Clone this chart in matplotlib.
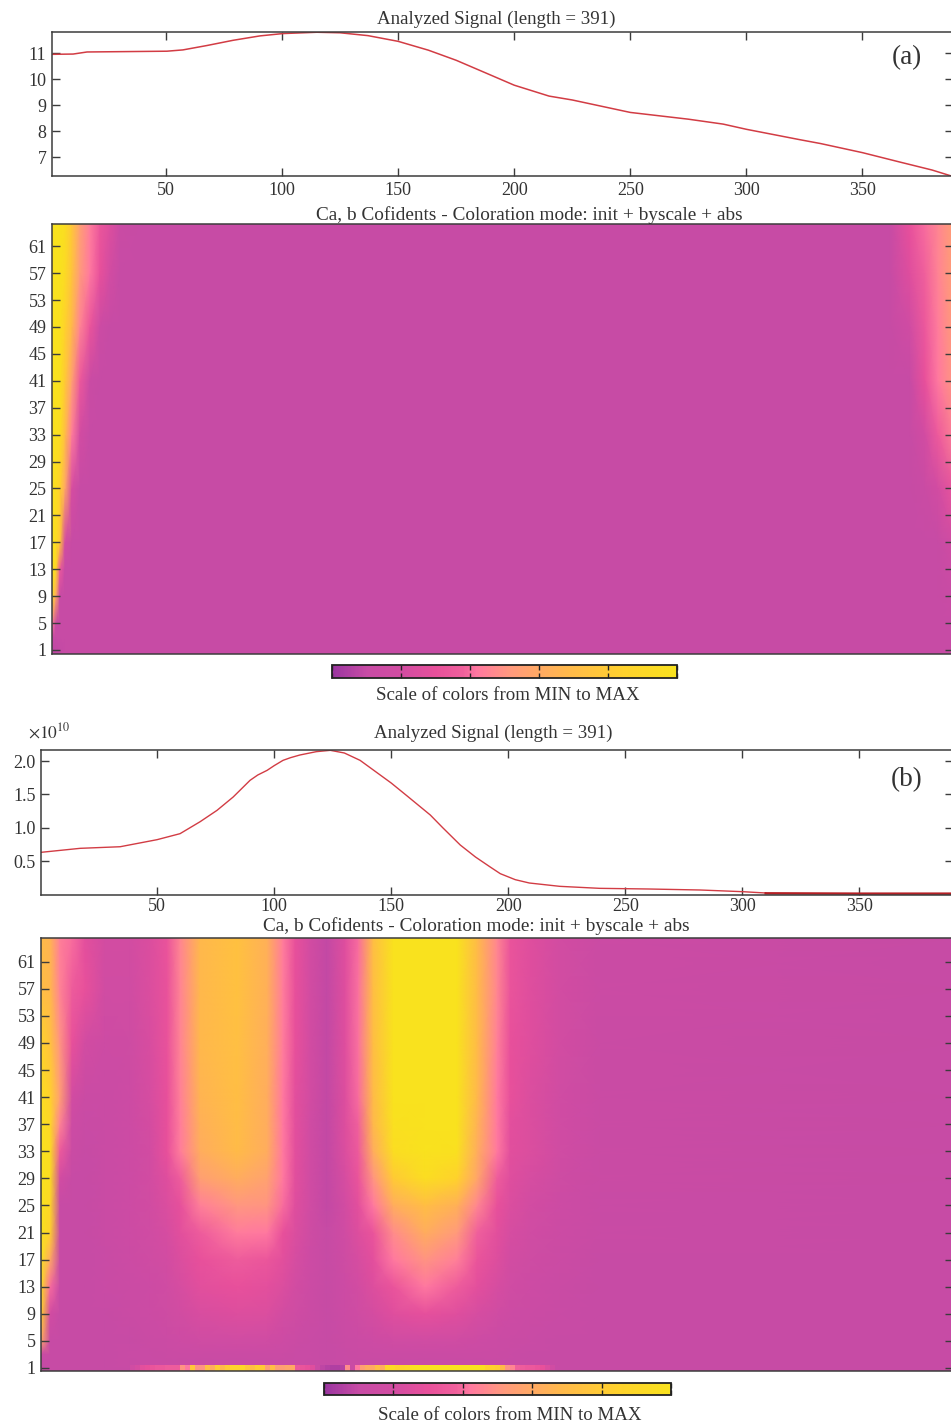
import numpy as np
import matplotlib
matplotlib.use("Agg")
import matplotlib.pyplot as plt
from matplotlib.colors import LinearSegmentedColormap, Normalize
from matplotlib.cm import ScalarMappable

plt.rcParams['font.family'] = ['Liberation Serif', 'DejaVu Serif']
plt.rcParams['mathtext.fontset'] = 'stix'

W, H = 951, 1425
TEXT = '#333333'
EDGE = '#3c3c3c'
LINE = '#d23c44'

# --- signals
sig_a_x = [1, 10, 16, 50.4, 57.3, 67.7, 78.9, 90.5, 100.4, 115, 125, 137, 150, 163, 175, 187, 200, 215, 225,
           250, 275, 290, 300, 323, 332, 350, 366, 380, 389]
sig_a_y = [10.96, 10.97, 11.05, 11.08, 11.13, 11.3, 11.5, 11.67, 11.76, 11.81, 11.79, 11.68, 11.46, 11.12, 10.73,
           10.27, 9.77, 9.35, 9.2, 8.72, 8.46, 8.27, 8.07, 7.67, 7.52, 7.17, 6.81, 6.5, 6.25]
sig_b_x = [0.4, 17.1, 34.2, 50, 59.8, 68.4, 75.6, 82.5, 89.7, 93, 97, 100, 103.8, 107, 111, 118, 124, 130, 136.7,
           150, 157, 166.7, 172, 179.5, 186, 192.3, 196.6, 203, 209, 222, 239, 260, 282, 300, 310]
sig_b_y = [0.63, 0.69, 0.714, 0.82, 0.91, 1.09, 1.26, 1.46, 1.71, 1.79, 1.86, 1.93, 2.01, 2.05, 2.09, 2.14, 2.16,
           2.12, 2.01, 1.67, 1.47, 1.19, 1.0, 0.74, 0.56, 0.41, 0.31, 0.22, 0.17, 0.12, 0.09, 0.08, 0.065, 0.04, 0.02]
sig_b_tail_x = [310, 350, 391]
sig_b_tail_y = [0.015, 0.01, 0.01]

x_ticks = [50, 100, 150, 200, 250, 300, 350]
scale_ticks = list(range(1, 62, 4))
a_sig_ticks = [7, 8, 9, 10, 11]
b_sig_ticks = [0.5, 1.0, 1.5, 2.0]
b_sig_labels = ['0.5', '1.0', '1.5', '2.0']

# --- coefficient tables (0 = MIN, 1 = MAX)
a_cols = [0.9, 2.6, 4.3, 6.5, 9.5, 13, 17.3, 21.6, 25.9, 30.2, 38.8, 361.8, 370.4, 376.9, 382.5, 390]
a_rows = [0.4, 3, 5, 9, 13, 17, 25, 33, 41, 49, 57, 64.4]
a_vals = [
    [.08, .08, .09, .1, .1, .1, .1, .1, .1, .1, .1, .1, .1, .1, .1, .1],
    [.12, .1, .1, .1, .1, .1, .1, .1, .1, .1, .1, .1, .1, .1, .1, .1],
    [.45, .1, .1, .1, .1, .1, .1, .1, .1, .1, .1, .1, .1, .1, .1, .1],
    [.95, .6, .1, .1, .1, .1, .1, .1, .1, .1, .1, .1, .1, .1, .1, .12],
    [1, .9, .35, .1, .1, .1, .1, .1, .1, .1, .1, .1, .1, .1, .1, .15],
    [1, .95, .8, .2, .1, .1, .1, .1, .1, .1, .1, .1, .1, .1, .1, .2],
    [1, .95, .85, .6, .22, .1, .1, .1, .1, .1, .1, .1, .1, .12, .2, .33],
    [1, .98, .95, .72, .43, .2, .1, .1, .1, .1, .1, .1, .1, .2, .35, .45],
    [1, 1, .98, .8, .55, .34, .12, .1, .1, .1, .1, .1, .1, .3, .42, .52],
    [1, 1, .98, .85, .68, .45, .32, .14, .1, .1, .1, .1, .18, .34, .43, .55],
    [1, 1, 1, .93, .75, .52, .42, .3, .2, .1, .1, .1, .26, .38, .45, .56],
    [1, 1, 1, .95, .78, .55, .43, .33, .25, .12, .1, .1, .3, .4, .46, .56],
]

b_cols = [0.4, 4.3, 8.5, 13.7, 19.2, 27.8, 38.5, 47, 54.3, 59.8, 68.4, 84.2, 97, 103.8, 109, 115.4, 122.6, 130.3,
          135.9, 142.3, 150.9, 164.5, 178.2, 186.8, 195.3, 200.9, 209.4, 222.2, 239.3, 390]
b_rows = [0.5, 3, 5, 9, 13, 17, 21, 25, 29, 33, 37, 41, 49, 57, 64.5]
b_vals = [
    [.09, .1, .1, .1, .1, .1, .1, .11, .11, .11, .11, .11, .11, .11, .11, .1, .1, .11, .11, .11, .11, .11, .11, .11, .11, .1, .1, .1, .1, .1],
    [.12, .1, .1, .1, .1, .1, .11, .11, .12, .12, .12, .12, .12, .12, .11, .11, .1, .11, .12, .12, .12, .12, .12, .12, .12, .11, .1, .1, .1, .1],
    [.6, .1, .1, .1, .1, .1, .1, .12, .13, .15, .17, .18, .17, .15, .13, .11, .1, .12, .13, .15, .17, .18, .17, .15, .13, .12, .11, .1, .1, .1],
    [.85, .2, .1, .1, .1, .1, .12, .14, .16, .19, .23, .25, .24, .2, .17, .13, .1, .14, .17, .21, .26, .29, .26, .22, .18, .15, .13, .11, .1, .1],
    [.95, .4, .1, .1, .1, .11, .13, .15, .18, .22, .27, .3, .28, .24, .2, .14, .1, .15, .2, .25, .32, .42, .36, .28, .22, .18, .15, .12, .1, .1],
    [1, .6, .1, .1, .1, .11, .14, .17, .2, .24, .3, .36, .33, .27, .22, .15, .1, .16, .22, .28, .42, .5, .44, .32, .25, .2, .16, .13, .1, .1],
    [1, .85, .1, .1, .1, .12, .15, .18, .22, .27, .36, .43, .42, .3, .24, .16, .1, .18, .25, .32, .48, .62, .52, .38, .27, .22, .18, .14, .11, .1],
    [1, .9, .1, .1, .1, .12, .15, .19, .24, .29, .44, .51, .5, .4, .26, .18, .09, .2, .28, .42, .62, .72, .64, .46, .3, .24, .2, .15, .11, .1],
    [1, .95, .2, .1, .1, .12, .15, .2, .26, .36, .55, .62, .56, .42, .27, .18, .09, .22, .32, .5, .8, .95, .85, .58, .36, .26, .22, .16, .12, .1],
    [1, .95, .35, .12, .1, .12, .15, .2, .3, .43, .62, .7, .62, .42, .28, .18, .09, .24, .35, .62, .95, 1, .98, .62, .42, .27, .24, .18, .12, .1],
    [.98, .9, .45, .15, .11, .12, .15, .21, .3, .43, .64, .71, .62, .42, .28, .18, .09, .25, .38, .68, .98, 1, 1, .65, .42, .28, .24, .18, .12, .1],
    [.95, .85, .55, .2, .12, .12, .15, .22, .3, .44, .66, .72, .62, .42, .28, .2, .09, .25, .4, .7, 1, 1, 1, .68, .42, .3, .24, .18, .12, .1],
    [.85, .75, .5, .3, .2, .15, .16, .23, .31, .45, .68, .73, .63, .43, .3, .2, .09, .26, .41, .72, 1, 1, 1, .7, .44, .3, .26, .2, .12, .1],
    [.72, .68, .45, .36, .3, .18, .18, .24, .31, .45, .68, .74, .64, .43, .3, .2, .09, .26, .41, .72, 1, 1, 1, .7, .46, .32, .26, .2, .13, .1],
    [.7, .66, .44, .4, .28, .2, .2, .24, .32, .46, .68, .74, .64, .43, .3, .2, .09, .26, .4, .72, 1, 1, 1, .7, .46, .32, .26, .2, .13, .1],
]

# first scale of panel (b) is noisy, one value per small x bin
row1_x0 = 38.5
row1_step = 2.137
row1_vals = [.18, .22, .28, .3, .32, .34, .34, .36, .36, .36,
             .5, .42, .78, .5, .5, .72, .62, .82, .68, .8,
             .85, .85, .9, .78, .72, .82, .8, .55, .72, .55,
             .55, .58, .6, .34, .32, .3, .26, .12, .08, .06,
             .05, .05, .06, .48, .12, .42, .55, .62, .6, .72,
             .62, .88, .92, .85, .88, .9, .98, 1, 1, 1,
             1, 1, 1, 1, 1, 1, 1, 1, 1, 1,
             .98, .85, .85, .82, .7, .5, .46, .38, .36, .34,
             .34, .32, .3, .24, .18]

cmap_pos = [0, .1, .2, .3, .38, .42, .52, .68, .85, 1]
cmap_col = ['#9a35a0', '#c84ba5', '#d24ca2', '#e8509b', '#f0609c', '#ff78a0', '#ff9a7c', '#ffb84c', '#ffd22c', '#f9e21e']
cmap = LinearSegmentedColormap.from_list('scale', list(zip(cmap_pos, cmap_col)))
norm = Normalize(0, 1)


def px_axes(fig, left, top, right, bottom):
    return fig.add_axes([left / W, 1 - bottom / H, (right - left) / W, (bottom - top) / H])


def px_text(fig, x, y, s, size=13.6, **kw):
    fig.text(x / W, 1 - y / H, s, fontsize=size, color=TEXT, ha='center', va='center', **kw)


def style(ax, top=True, bottom=True, pad=4):
    for s in ax.spines.values():
        s.set_color(EDGE)
        s.set_linewidth(1.1)
    ax.tick_params(direction='in', length=6, width=1.0, color=EDGE, labelcolor=TEXT, labelsize=13,
                   left=True, right=True, top=top, bottom=bottom)
    ax.tick_params(axis='y', pad=4)
    ax.tick_params(axis='x', pad=pad)


def signal_panel(fig, box, xlim, ylim, yticks, ylabels=None, pad=4):
    ax = px_axes(fig, *box)
    ax.set_xlim(*xlim)
    ax.set_ylim(*ylim)
    ax.set_xticks(x_ticks)
    ax.set_yticks(yticks)
    if ylabels:
        ax.set_yticklabels(ylabels)
    style(ax, pad=pad)
    return ax


def heat_panel(fig, box, xlim, ylim, cols, rows, vals):
    ax = px_axes(fig, *box)
    ax.pcolormesh(cols, rows, np.array(vals), cmap=cmap, norm=norm, shading='gouraud')
    ax.set_xlim(*xlim)
    ax.set_ylim(*ylim)
    ax.set_xticks([])
    ax.set_yticks(scale_ticks)
    style(ax, top=False, bottom=False)
    return ax


def scale_bar(fig, box):
    cax = px_axes(fig, *box)
    cb = fig.colorbar(ScalarMappable(norm=norm, cmap=cmap), cax=cax, orientation='horizontal')
    cb.set_ticks([0, .2, .4, .6, .8, 1])
    cb.ax.tick_params(direction='in', length=3.5, width=1.0, color='#222222', top=True, bottom=True,
                      labelbottom=False, labeltop=False)
    cb.outline.set_edgecolor('#222222')
    cb.outline.set_linewidth(1.3)


fig = plt.figure(figsize=(W / 100, H / 100), dpi=100)

# panel (a)
ax = signal_panel(fig, (52, 32, 953, 176), (0.9, 389), (6.27, 11.82), a_sig_ticks)
ax.plot(sig_a_x, sig_a_y, color=LINE, lw=1.1)
heat_panel(fig, (52, 224, 953, 654), (0.9, 389), (0.4, 64.3), a_cols, a_rows, a_vals)
scale_bar(fig, (332, 665, 677, 678))

# panel (b)
ax = signal_panel(fig, (41, 750, 953, 895), (0.4, 390), (-0.01, 2.165), b_sig_ticks, b_sig_labels, pad=2.5)
ax.plot(sig_b_x, sig_b_y, color=LINE, lw=1.0)
ax.plot(sig_b_tail_x, sig_b_tail_y, color='#b52025', lw=1.8)
ax = heat_panel(fig, (41, 938, 953, 1371), (0.4, 390), (0.55, 64.5), b_cols, b_rows, b_vals)
row1_edges = row1_x0 + row1_step * np.arange(len(row1_vals) + 1)
ax.pcolormesh(row1_edges, [0.55, 1.45], np.array([row1_vals]), cmap=cmap, norm=norm, shading='flat')
scale_bar(fig, (324, 1383, 671, 1395))

# titles and labels
px_text(fig, 496, 19, 'Analyzed Signal (length = 391)')
px_text(fig, 529, 215, 'Ca, b Cofidents - Coloration mode: init + byscale + abs', size=13.9)
px_text(fig, 508, 696, 'Scale of colors from MIN to MAX')
px_text(fig, 493, 733, 'Analyzed Signal (length = 391)')
px_text(fig, 476, 926, 'Ca, b Cofidents - Coloration mode: init + byscale + abs', size=13.9)
px_text(fig, 510, 1415, 'Scale of colors from MIN to MAX')
px_text(fig, 907, 58, '(a)', size=19.5)
px_text(fig, 907, 780, '(b)', size=19.5)
px_text(fig, 49, 732, r'$\times 10^{10}$', size=12.5)

fig.savefig('out.png', dpi=100)
